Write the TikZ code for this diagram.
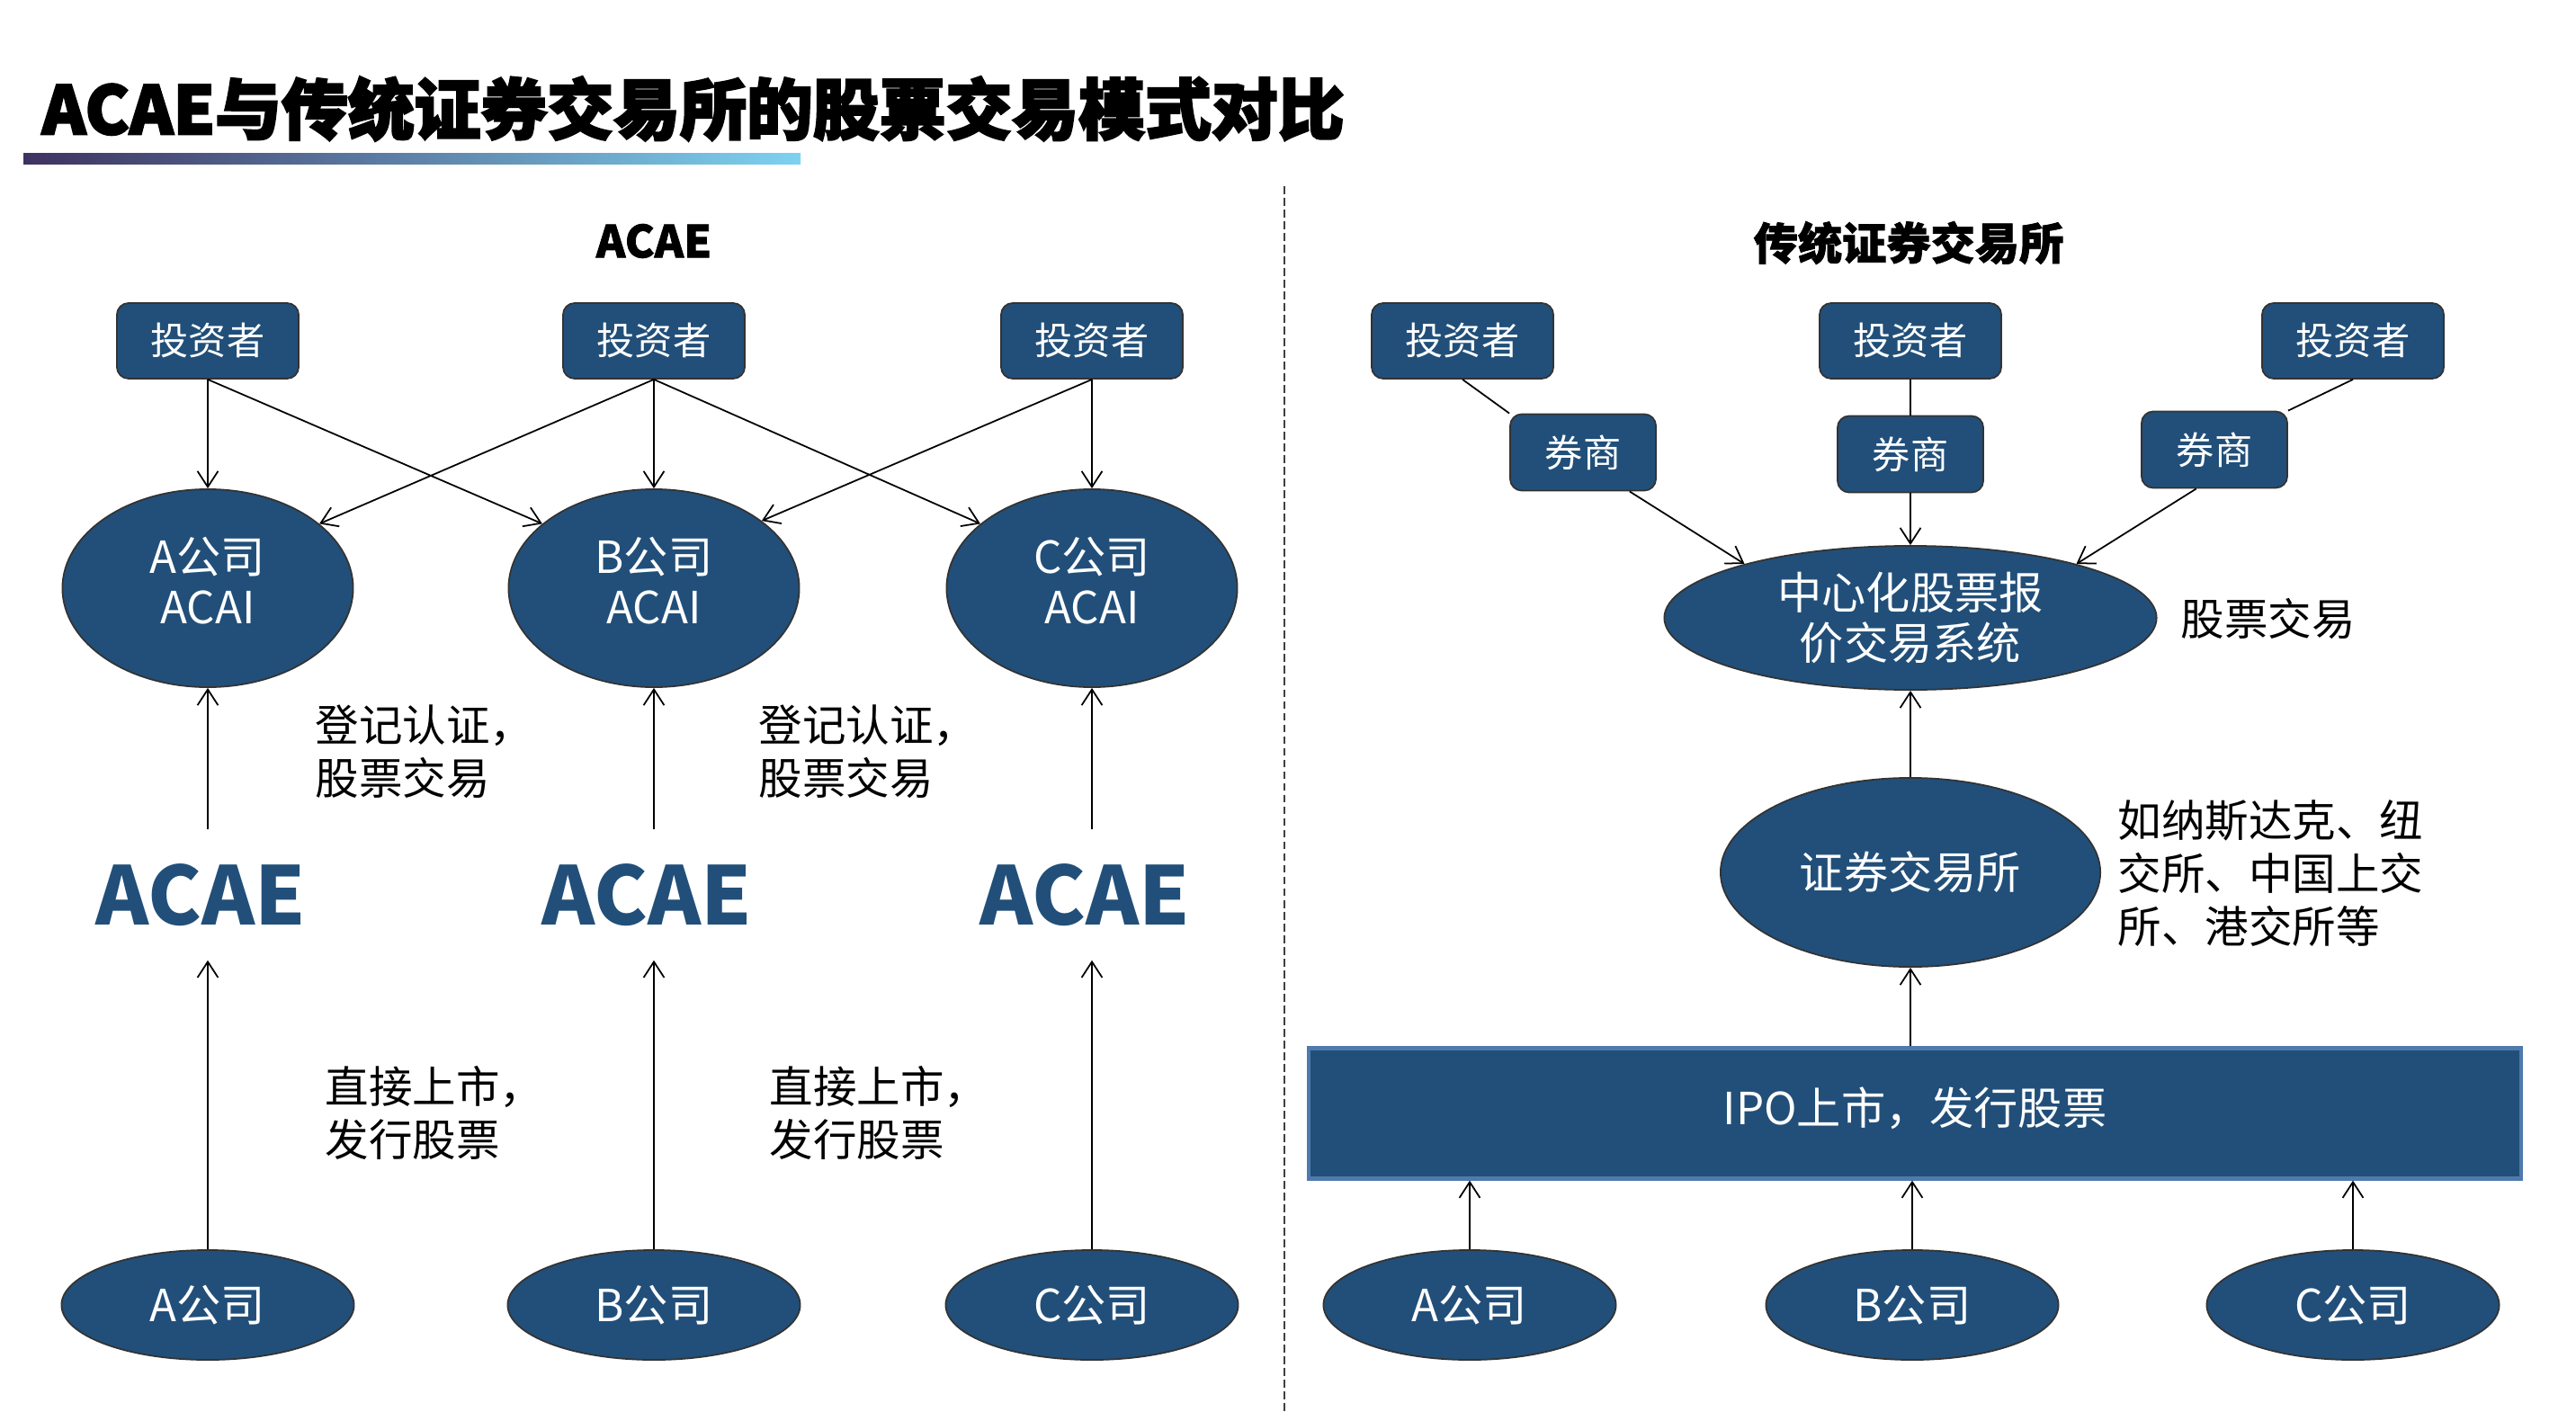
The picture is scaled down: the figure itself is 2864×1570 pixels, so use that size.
\documentclass[tikz,border=0pt]{standalone}
\usepackage{fontspec}
\setmainfont{Noto Sans CJK SC}
\newfontfamily\heavyfont{Noto Sans CJK SC}[BoldFeatures={FakeBold=1.5}]
\newfontfamily\titlefont{Noto Sans CJK SC}[BoldFeatures={FakeBold=3}]
\usetikzlibrary{shapes.geometric,arrows.meta}
\definecolor{nodeblue}{RGB}{33,79,121}
\definecolor{ipoedge}{RGB}{78,122,172}
\definecolor{barleft}{RGB}{62,50,96}
\definecolor{barmid}{RGB}{88,110,175}
\definecolor{barright}{RGB}{125,210,240}
\begin{document}
\begin{tikzpicture}
[x=0.01cm,y=-0.01cm]
\tikzstyle{invest}=[rectangle, rounded corners=0.13cm, draw=black!80, line width=0.5pt, fill=nodeblue, text=white, minimum width=2.02cm, minimum height=0.84cm, font=\fontsize{12pt}{14pt}\selectfont]
\tikzstyle{broker}=[invest, minimum width=1.62cm, minimum height=0.85cm]
\tikzstyle{company}=[ellipse, draw=black!80, line width=0.5pt, fill=nodeblue, text=white, inner sep=0pt, align=center, font=\fontsize{14pt}{16pt}\selectfont]
\tikzstyle{acai}=[company, minimum width=3.23cm, minimum height=2.2cm, text depth=5pt]
\tikzstyle{note}=[anchor=west, align=left, inner sep=0pt, font=\fontsize{13.8pt}{16.8pt}\selectfont]
\tikzstyle{heading}=[inner sep=0pt, font=\fontsize{14pt}{14pt}\heavyfont\bfseries]
\tikzstyle{logo}=[inner sep=0pt, minimum height=1.44cm, text=nodeblue, font=\fontsize{25.5pt}{25.5pt}\selectfont\bfseries]
\tikzstyle{arr}=[-{Straight Barb[length=5pt,width=6.5pt]}, line width=0.5pt]
\useasboundingbox (0,0) rectangle (2864,1570);
\node[anchor=west, inner sep=0pt, font=\fontsize{21pt}{21pt}\titlefont\bfseries] (title) at (46,121) {ACAE与传统证券交易所的股票交易模式对比};
\shade[left color=barleft, middle color=barmid, right color=barright] (26,171) rectangle (890,183);
\draw[dash pattern=on 2.5pt off 1.2pt, line width=0.7pt, black!75] (1428,207) -- (1428,1570);

\node[heading] (hdL) at (727,268) {ACAE};
\node[invest] (invL1) at (231,379) {投资者};
\node[invest] (invL2) at (727,379) {投资者};
\node[invest] (invL3) at (1214,379) {投资者};
\node[acai] (coL1) at (231,654) {A公司\\ACAI};
\node[acai] (coL2) at (727,654) {B公司\\ACAI};
\node[acai] (coL3) at (1214,654) {C公司\\ACAI};
\node[note] (regL1) at (350,836) {登记认证，\\股票交易};
\node[note] (regL2) at (843,836) {登记认证，\\股票交易};
\node[logo] (acae1) at (223,995) {ACAE};
\node[logo] (acae2) at (719,995) {ACAE};
\node[logo] (acae3) at (1206,995) {ACAE};
\node[note] (lstL1) at (361,1237) {直接上市，\\发行股票};
\node[note] (lstL2) at (855,1237) {直接上市，\\发行股票};
\node[company, minimum width=3.25cm, minimum height=1.22cm] (bL1) at (231,1451) {A公司};
\node[company, minimum width=3.25cm, minimum height=1.22cm] (bL2) at (727,1451) {B公司};
\node[company, minimum width=3.25cm, minimum height=1.22cm] (bL3) at (1214,1451) {C公司};

\draw[arr] (invL1) -- (coL1);
\draw[arr] (invL1.south) -- (coL2.150);
\draw[arr] (invL2.south) -- (coL1.30);
\draw[arr] (invL2) -- (coL2);
\draw[arr] (invL2.south) -- (coL3.150);
\draw[arr] (invL3.south) -- (coL2.32);
\draw[arr] (invL3) -- (coL3);
\draw[arr] (acae1.north -| coL1) -- (coL1);
\draw[arr] (acae2.north -| coL2) -- (coL2);
\draw[arr] (acae3.north -| coL3) -- (coL3);
\draw[arr] (bL1) -- (bL1 |- acae1.south);
\draw[arr] (bL2) -- (bL2 |- acae2.south);
\draw[arr] (bL3) -- (bL3 |- acae3.south);

\node[heading] (hdR) at (2122,270) {传统证券交易所};
\node[invest] (invR1) at (1626,379) {投资者};
\node[invest] (invR2) at (2124,379) {投资者};
\node[invest] (invR3) at (2616,379) {投资者};
\node[broker] (brR1) at (1760,503) {券商};
\node[broker] (brR2) at (2124,505) {券商};
\node[broker] (brR3) at (2462,500) {券商};
\node[company, minimum width=5.47cm, minimum height=1.6cm] (cen) at (2124,687) {中心化股票报\\价交易系统};
\node[note] (trade) at (2424,688) {股票交易};
\node[company, minimum width=4.22cm, minimum height=2.1cm] (exch) at (2124,970) {证券交易所};
\node[note] (exmp) at (2354,971) {如纳斯达克、纽\\交所、中国上交\\所、港交所等};
\node[rectangle, fill=nodeblue, draw=ipoedge, line width=1.2pt, text=white, minimum width=13.47cm, minimum height=1.45cm, text depth=5pt, font=\fontsize{14pt}{14pt}\selectfont] (ipo) at (2129,1238) {IPO上市，发行股票};
\node[company, minimum width=3.25cm, minimum height=1.22cm] (bR1) at (1634,1451) {A公司};
\node[company, minimum width=3.25cm, minimum height=1.22cm] (bR2) at (2126,1451) {B公司};
\node[company, minimum width=3.25cm, minimum height=1.22cm] (bR3) at (2616,1451) {C公司};

\draw[line width=0.5pt] (invR1.south) -- (brR1.north west);
\draw[line width=0.5pt] (invR2) -- (brR2);
\draw[line width=0.5pt] (invR3.south) -- (brR3.north east);
\draw[arr] (brR1.-40) -- (cen.162);
\draw[arr] (brR2) -- (cen);
\draw[arr] (brR3.-115) -- (cen.18);
\draw[arr] (exch) -- (cen);
\draw[arr] (ipo.north -| exch) -- (exch);
\draw[arr] (bR1) -- (bR1 |- ipo.south);
\draw[arr] (bR2) -- (bR2 |- ipo.south);
\draw[arr] (bR3) -- (bR3 |- ipo.south);
\end{tikzpicture}
\end{document}
